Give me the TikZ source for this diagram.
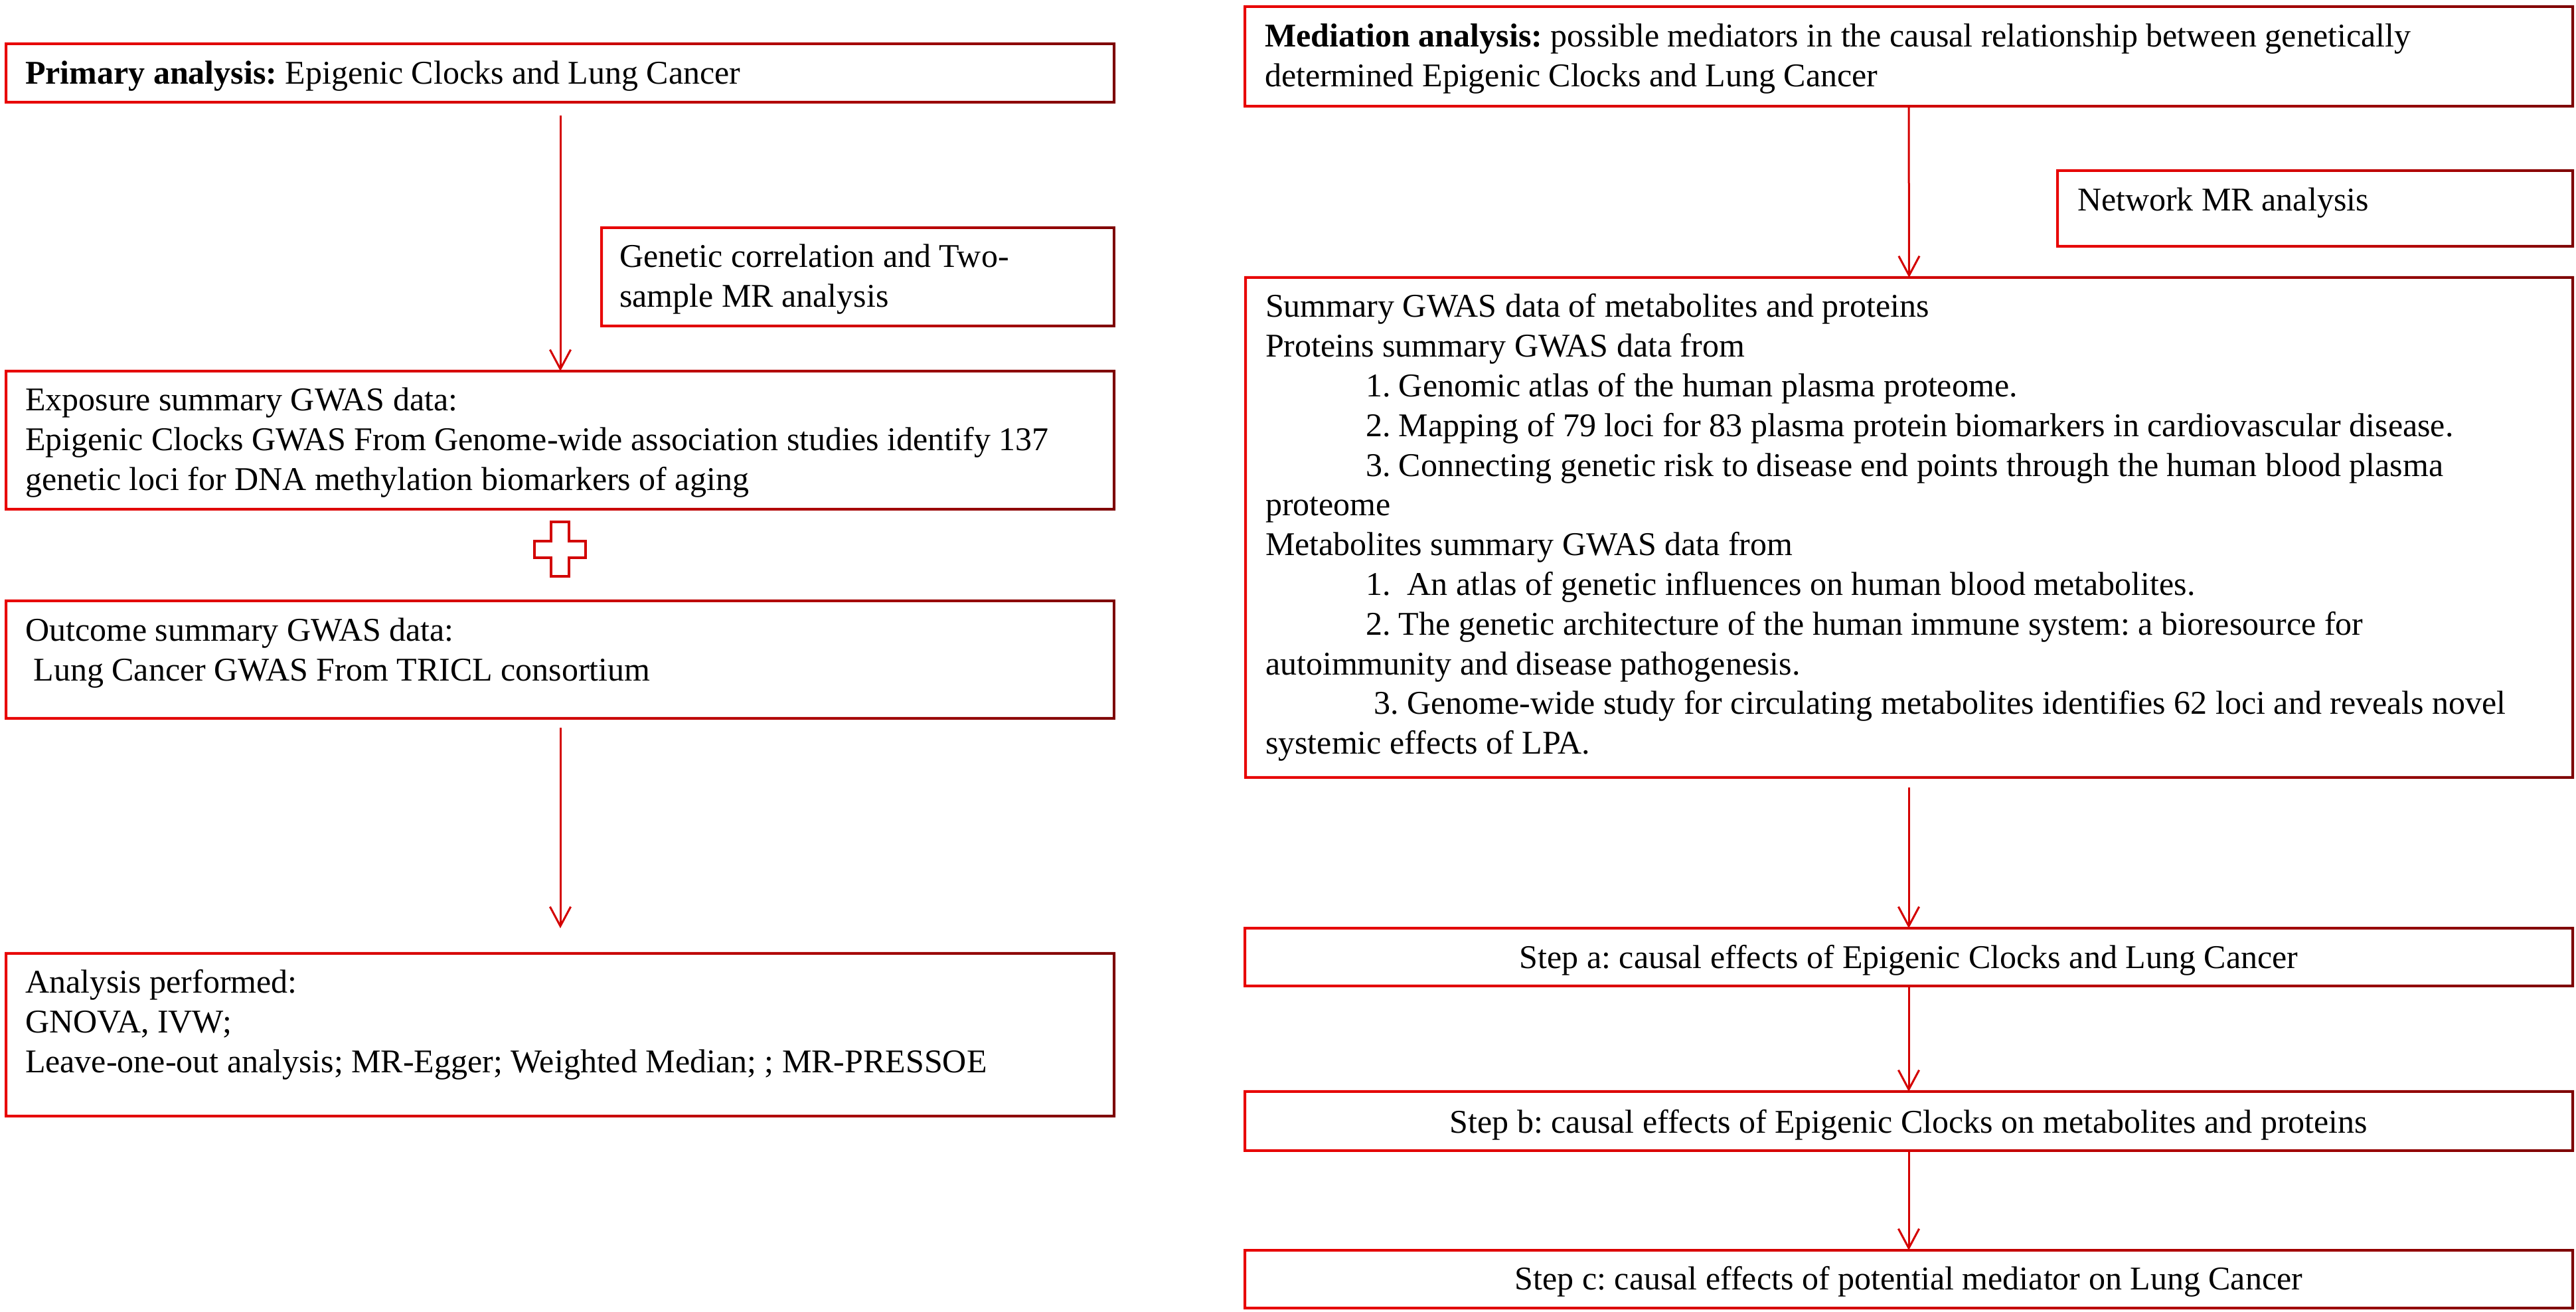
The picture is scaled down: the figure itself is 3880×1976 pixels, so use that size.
\documentclass[tikz,border=0pt]{standalone}
\usepackage{fontspec}
\setmainfont{Liberation Serif}
\usetikzlibrary{arrows.meta}
\definecolor{redL}{RGB}{232,0,0}
\definecolor{redM}{RGB}{210,0,0}
\definecolor{redR}{RGB}{125,0,0}
\definecolor{arrred}{RGB}{212,0,0}
\newcommand\ind{\hspace*{37.75pt}}
\newcommand\mkbox[5]{%
  \node[boxarea, minimum width={(#4-#2)*0.25pt}, minimum height={(#5-#3)*0.25pt}, anchor=north west] (#1) at (#2,#3) {};
  \shade[frameshade] ([shift={(-2,-2)}]#1.north west) rectangle ([shift={(2,2)}]#1.south east)
    ([shift={(2,2)}]#1.north west) rectangle ([shift={(-2,-2)}]#1.south east);}
\tikzset{
  boxarea/.style={draw=none, inner sep=0pt, outer sep=0pt},
  frameshade/.style={even odd rule, left color=redL, right color=redR, middle color=redM},
  txt/.style={inner sep=0pt, outer sep=0pt, font=\fontsize{12.5pt}{14.95pt}\selectfont\frenchspacing, anchor=base west},
  ctxt/.style={txt, anchor=base},
  arr/.style={draw=arrred, line width=0.75pt, -{Straight Barb[length=7.3pt, width=7.8pt]}},
  plusline/.style={draw=redM, line width=0.9pt, line join=miter}
}
\begin{document}
\frenchspacing
\begin{tikzpicture}[x=0.25pt, y=-0.25pt]
\useasboundingbox (0,0) rectangle (3880,1976);

% left column boxes
\mkbox{prim}{9}{66}{1678}{154}
\mkbox{gc}{906}{343}{1678}{491}
\mkbox{expo}{9}{559}{1678}{767}
\mkbox{outc}{9}{905}{1678}{1082}
\mkbox{ana}{9}{1436}{1678}{1681}

% right column boxes
\mkbox{med}{1875}{10}{3875}{160}
\mkbox{net}{3099}{257}{3875}{371}
\mkbox{sum}{1876}{418}{3875}{1171}
\mkbox{stepa}{1875}{1398}{3875}{1485}
\mkbox{stepb}{1875}{1644}{3875}{1733}
\mkbox{stepc}{1875}{1883}{3875}{1970}

% texts
\node[txt] (tprim) at (38,127) {\textbf{Primary analysis:} Epigenic Clocks and Lung Cancer};
\node[txt] (tgc) at (933,403) {\begin{tabular}[t]{@{}l@{}}Genetic correlation and Two-\\sample MR analysis\end{tabular}};
\node[txt] (texpo) at (38,619) {\begin{tabular}[t]{@{}l@{}}Exposure summary GWAS data:\\Epigenic Clocks GWAS From Genome-wide association studies identify 137\\genetic loci for DNA methylation biomarkers of aging\end{tabular}};
\node[txt] (toutc) at (38,966) {\begin{tabular}[t]{@{}l@{}}Outcome summary GWAS data:\\\ Lung Cancer GWAS From TRICL consortium\end{tabular}};
\node[txt] (tana) at (38,1496) {\begin{tabular}[t]{@{}l@{}}Analysis performed:\\GNOVA, IVW;\\Leave-one-out analysis; MR-Egger; Weighted Median; ; MR-PRESSOE\end{tabular}};

\node[txt] (tmed) at (1905,71) {\begin{tabular}[t]{@{}l@{}}\textbf{Mediation analysis:} possible mediators in the causal relationship between genetically\\determined Epigenic Clocks and Lung Cancer\end{tabular}};
\node[txt] (tnet) at (3129,318) {Network MR analysis};
\node[txt] (tsum) at (1906,478) {\begin{tabular}[t]{@{}l@{}}Summary GWAS data of metabolites and proteins\\
Proteins summary GWAS data from\\
\ind 1. Genomic atlas of the human plasma proteome.\\
\ind 2. Mapping of 79 loci for 83 plasma protein biomarkers in cardiovascular disease.\\
\ind 3. Connecting genetic risk to disease end points through the human blood plasma\\
proteome\\
Metabolites summary GWAS data from\\
\ind 1.\ \ An atlas of genetic influences on human blood metabolites.\\
\ind 2. The genetic architecture of the human immune system: a bioresource for\\
autoimmunity and disease pathogenesis.\\
\ind\ 3. Genome-wide study for circulating metabolites identifies 62 loci and reveals novel\\
systemic effects of LPA.\end{tabular}};
\node[ctxt] (tstepa) at (2875,1459) {Step a: causal effects of Epigenic Clocks and Lung Cancer};
\node[ctxt] (tstepb) at (2875,1707) {Step b: causal effects of Epigenic Clocks on metabolites and proteins};
\node[ctxt] (tstepc) at (2875,1943) {Step c: causal effects of potential mediator on Lung Cancer};

% plus sign
\draw[plusline] (830,786) -- (857,786) -- (857,815) -- (882,815) -- (882,840) -- (857,840)
  -- (857,868) -- (830,868) -- (830,840) -- (805,840) -- (805,815) -- (830,815) -- cycle;

% connectors
\coordinate (a1s) at (844,174);
\draw[arr] (a1s) -- (a1s |- expo.north);
\coordinate (a2s) at (844,1096);
\coordinate (a2e) at (844,1398);
\draw[arr] (a2s) -- (a2e);
\draw[arr] (med.south) -- (sum.north);
\coordinate (a3s) at (2875,1186);
\draw[arr] (a3s) -- (stepa.north);
\draw[arr] (stepa.south) -- (stepb.north);
\draw[arr] (stepb.south) -- (stepc.north);
\end{tikzpicture}
\end{document}
